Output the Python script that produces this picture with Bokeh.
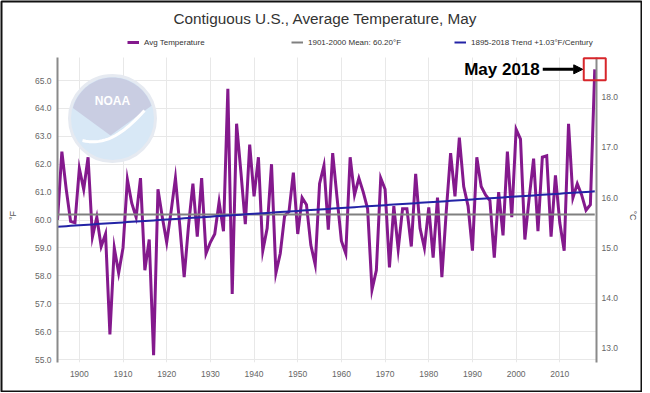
import numpy as np
from bokeh.plotting import figure
from bokeh.models import (Range1d, LinearAxis, FixedTicker, PrintfTickFormatter,
                          Legend, LegendItem, Label, Arrow, NormalHead, Grid)
from bokeh.core.properties import value
from bokeh.embed import file_html
from bokeh.resources import INLINE

# ---------------- data ----------------
years = list(range(1895, 2019))
avg_temp_f = [
    60.0, 62.45, 61.1, 59.95, 59.9,                      # 1895-1899
    61.85, 61.1, 62.25, 59.4, 60.1, 59.05, 59.5, 55.9, 59.0, 58.1,   # 1900-1909
    59.0, 61.45, 60.6, 60.1, 61.5, 58.2, 59.3, 55.15, 61.1, 60.1,    # 1910-1919
    59.2, 60.3, 61.5, 59.8, 57.95, 59.8, 61.3, 59.4, 61.5, 58.8,     # 1920-1929
    59.2, 59.5, 60.65, 59.6, 64.7, 57.35, 63.45, 61.7, 59.85, 62.7,  # 1930-1939
    60.85, 62.25, 58.9, 59.7, 62.0, 58.1, 58.8, 60.15, 60.3, 61.7,   # 1940-1949
    59.5, 60.8, 60.55, 59.1, 58.4, 61.3, 61.95, 59.65, 62.4, 60.8,   # 1950-1959
    59.25, 58.8, 62.25, 60.9, 61.5, 61.0, 60.4, 57.5, 58.2, 61.5,    # 1960-1969
    61.1, 58.3, 60.5, 58.95, 60.4, 60.4, 59.05, 61.65, 59.7, 59.0,   # 1970-1979
    60.45, 58.65, 60.8, 57.95, 60.3, 62.4, 60.85, 62.95, 61.2, 60.5, # 1980-1989
    58.9, 62.25, 61.2, 60.9, 60.7, 58.65, 61.0, 59.45, 62.45, 60.1,  # 1990-1999
    63.25, 62.9, 59.3, 60.8, 62.2, 59.6, 62.25, 62.3, 59.4, 61.6,    # 2000-2009
    59.9, 58.9, 63.45, 60.8, 61.3, 60.9, 60.35, 60.55, 65.4,         # 2010-2018
]
assert len(avg_temp_f) == len(years)

MEAN_1901_2000 = 60.20
TREND_F_PER_CENTURY = 1.03

x_ticks = [1900, 1910, 1920, 1930, 1940, 1950, 1960, 1970, 1980, 1990, 2000, 2010]
f_ticks = [55.0, 56.0, 57.0, 58.0, 59.0, 60.0, 61.0, 62.0, 63.0, 64.0, 65.0]
c_ticks = [13.0, 14.0, 15.0, 16.0, 17.0, 18.0]

title_text = "Contiguous U.S., Average Temperature, May"
legend_labels = ["Avg Temperature", "1901-2000 Mean: 60.20\u00b0F",
                 "1895-2018 Trend +1.03\u00b0F/Century"]
callout_text = "May 2018"
f_axis_title = "\u00b0F"
c_axis_title = "\u00b0C"

# ---------------- layout ----------------
W, H = 642, 392
BL, BR, BT, BB = 57, 46, 0, 30
FW = W - BL - BR            # frame width
FH = H - BT - BB            # frame height (frame reaches the top of canvas)
PX_Y = 27.9                 # pixels per degree F
X0, X1 = 1895.0, 2018.4
Y0 = 55.0 - 3 / PX_Y
Y_TOP = Y0 + FH / PX_Y
AX_TOP = Y_TOP - 57 / PX_Y  # top of the axis lines
PX_X = FW / (X1 - X0)


def sx(px):   # canvas pixel x -> data x
    return X0 + (px - BL) / PX_X


def sy(py):   # canvas pixel y (from top) -> data y
    return Y_TOP - py / PX_Y


FONT = "Liberation Sans"
PURPLE = "#84198d"
GRAY = "#808080"
NAVY = "#2323a6"
TICK_COLOR = "#666666"

p = figure(width=W, height=H, x_range=Range1d(X0, X1), y_range=Range1d(Y0, Y_TOP),
           output_backend="svg", toolbar_location=None, title=None,
           min_border_left=BL, min_border_right=BR, min_border_top=BT, min_border_bottom=BB)
p.outline_line_alpha = 0
p.background_fill_color = "white"
p.border_fill_color = "white"

# grids
p.ygrid.ticker = FixedTicker(ticks=f_ticks)
p.ygrid.grid_line_color = "#e8e8e8"
p.xgrid.ticker = FixedTicker(ticks=x_ticks)
p.xgrid.grid_line_color = "#e8e8e8"
if "cross_bounds" in Grid.properties():
    p.xgrid.cross_bounds = (Y0, AX_TOP)
else:
    p.xgrid.grid_line_alpha = 0
    p.segment(x0=x_ticks, y0=[Y0] * len(x_ticks), x1=x_ticks, y1=[AX_TOP] * len(x_ticks),
              line_color="#e8e8e8", line_width=1)


def style_axis(ax):
    ax.major_tick_out = 0
    ax.major_tick_in = 0
    ax.minor_tick_out = 0
    ax.minor_tick_in = 0
    ax.major_tick_line_alpha = 0
    ax.minor_tick_line_alpha = 0
    ax.major_label_text_font = FONT
    ax.major_label_text_font_size = "8.5px"
    ax.major_label_text_color = TICK_COLOR


# x axis
xa = p.xaxis[0]
style_axis(xa)
xa.ticker = FixedTicker(ticks=x_ticks)
xa.formatter = PrintfTickFormatter(format="%d")
xa.axis_line_alpha = 0
xa.major_label_standoff = 8
xa.axis_label_standoff = 0

# left axis (deg F)
ya = p.yaxis[0]
style_axis(ya)
ya.bounds = (Y0, AX_TOP)
ya.ticker = FixedTicker(ticks=f_ticks)
ya.formatter = PrintfTickFormatter(format="%.1f")
ya.axis_line_color = "#8a8a8a"
ya.axis_line_width = 2
ya.major_label_standoff = 6

# right axis (deg C)
p.extra_y_ranges = {"c": Range1d((Y0 - 32) / 1.8, (Y_TOP - 32) / 1.8)}
ca = LinearAxis(y_range_name="c")
style_axis(ca)
ca.bounds = ((Y0 - 32) / 1.8, (AX_TOP - 32) / 1.8)
ca.ticker = FixedTicker(ticks=c_ticks)
ca.formatter = PrintfTickFormatter(format="%.1f")
ca.axis_line_color = "#8a8a8a"
ca.axis_line_width = 2
ca.major_label_standoff = 5
p.add_layout(ca, "right")

# axis titles (overlay text so they can sit outside the frame)
p.text([sx(12)], [sy(215)], text=[f_axis_title], angle=np.pi / 2,
       text_align="center", text_baseline="middle", text_font=value(FONT),
       text_font_size="9px", text_color="#555555", level="overlay")
p.text([sx(632)], [sy(215)], text=[c_axis_title], angle=-np.pi / 2,
       text_align="center", text_baseline="middle", text_font=value(FONT),
       text_font_size="9px", text_color="#555555", level="overlay")

# NOAA-like watermark (decoration)
LCX, LCY, LR = 112, 118, 41
p.scatter([sx(LCX)], [sy(LCY)], marker="circle", size=2 * LR + 4, fill_color="#d8e8f6",
          line_color="#e6eaf1", line_width=3)
arc = np.linspace(np.radians(165), np.radians(18), 40)
top_px_x = list(LCX + LR * np.cos(arc)) + [LCX - 2]
top_px_y = list(LCY - LR * np.sin(arc)) + [LCY + 17]
p.patch([sx(v) for v in top_px_x], [sy(v) for v in top_px_y],
        fill_color="#c9cde2", line_alpha=0)
wing = np.linspace(0, 1, 20)
p.line([sx(v) for v in (LCX - 30 + 62 * wing)],
       [sy(v) for v in (LCY + 22 - 30 * wing ** 1.6 + 6 * np.sin(np.pi * wing))],
       line_color="white", line_width=3)
p.text([sx(LCX)], [sy(LCY - 18)], text=["NOAA"], text_align="center",
       text_baseline="middle", text_color="white", text_font=value(FONT),
       text_font_style="bold", text_font_size="12px")

# series
yrs = np.array(years, dtype=float)
tf = np.array(avg_temp_f)
slope = TREND_F_PER_CENTURY / 100.0
intercept = tf.mean() - slope * yrs.mean()
trend = intercept + slope * yrs

r_avg = p.line(years, avg_temp_f, line_color=PURPLE, line_width=3, line_join="miter")
r_mean = p.line([years[0], years[-1]], [MEAN_1901_2000, MEAN_1901_2000],
                line_color=GRAY, line_width=2)
r_trend = p.line(years, list(trend), line_color=NAVY, line_width=2)

# legend: three fixed-position items near the top of the frame
for r, lab, lx0 in zip([r_avg, r_mean, r_trend], legend_labels, [70, 234, 397]):
    lg = Legend(items=[LegendItem(label=lab, renderers=[r])], location=(lx0, FH - 47),
                orientation="horizontal", glyph_width=12, glyph_height=10,
                label_height=10, label_width=10, label_standoff=5, padding=0, margin=0,
                spacing=0, background_fill_alpha=0, border_line_alpha=0,
                label_text_font=FONT, label_text_font_size="8px",
                label_text_color="#333333")
    p.add_layout(lg)

# title
p.add_layout(Label(x=268, y=FH - 18, x_units="screen", y_units="screen",
                   text=title_text, text_align="center", text_baseline="middle",
                   text_font=FONT, text_font_size="15.3px", text_color="#333333"))

# callout for May 2018
p.scatter([years[-1]], [avg_temp_f[-1]], marker="square", size=22, fill_alpha=0,
          line_color="#d7262b", line_width=2, level="overlay")
p.add_layout(Arrow(x_start=years[-1] - 52 / PX_X, y_start=avg_temp_f[-1],
                   x_end=years[-1] - 12 / PX_X, y_end=avg_temp_f[-1],
                   line_color="black", line_width=3,
                   end=NormalHead(size=9, fill_color="black", line_color="black")))
p.add_layout(Label(x=years[-1], y=avg_temp_f[-1], x_offset=-55, text=callout_text,
                   text_align="right", text_baseline="middle", text_font=FONT,
                   text_font_style="bold", text_font_size="17px", text_color="black"))

# thin dark frame around the whole picture
p.rect([sx(W / 2)], [sy(H / 2)], width=W - 2, height=H - 2, width_units="screen",
       height_units="screen", fill_alpha=0, line_color="#111111", line_width=2,
       level="overlay")

open("out.html", "w").write(file_html(p, INLINE))
